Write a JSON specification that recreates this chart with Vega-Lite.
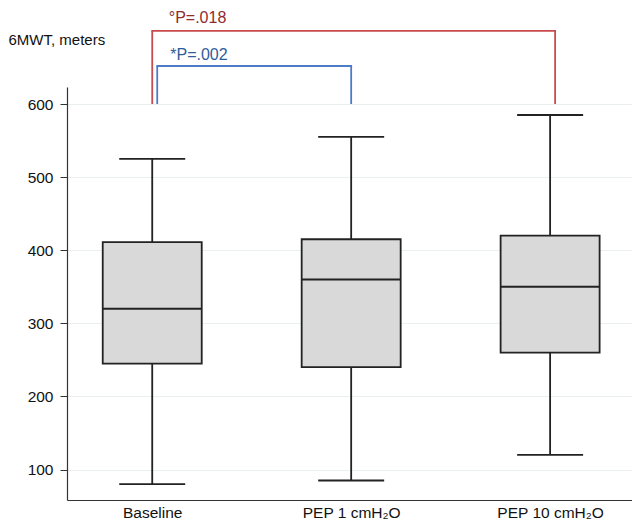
{
  "$schema": "https://vega.github.io/schema/vega-lite/v6.json",
  "width": 565,
  "height": 413,
  "autosize": {"type": "none"},
  "padding": {"left": 67, "top": 87, "right": 0, "bottom": 26},
  "background": "white",
  "config": {
    "view": {"stroke": null},
    "font": "Liberation Sans",
    "axis": {"labelFont": "Liberation Sans", "titleFont": "Liberation Sans"}
  },
  "datasets": {
    "boxes": [
      {"group": "Baseline", "min": 80, "q1": 245, "median": 320, "q3": 411, "max": 525},
      {"group": "PEP 1 cmH₂O", "min": 85, "q1": 240, "median": 360, "q3": 415, "max": 555},
      {"group": "PEP 10 cmH₂O", "min": 120, "q1": 260, "median": 350, "q3": 420, "max": 585}
    ],
    "brackets": [
      {"test": "a", "from": "Baseline", "to": "PEP 10 cmH₂O", "level": 700, "base": 600, "label": "°P=.018", "labelLevel": 711},
      {"test": "b", "from": "Baseline", "to": "PEP 1 cmH₂O", "level": 652, "base": 600, "label": "*P=.002", "labelLevel": 660}
    ]
  },
  "layer": [
    {
      "data": {"name": "boxes"},
      "mark": {"type": "rule", "color": "#222222", "strokeWidth": 1.8},
      "encoding": {
        "x": {
          "field": "group", "type": "nominal",
          "scale": {"type": "point", "domain": ["Baseline", "PEP 1 cmH₂O", "PEP 10 cmH₂O"], "padding": 0.42, "align": 0.51},
          "axis": {"title": null, "ticks": false, "labelAngle": 0, "labelFontSize": 15.5, "labelColor": "#111111", "labelPadding": 5, "domainColor": "#333333", "domainWidth": 1.2, "grid": false}
        },
        "y": {
          "field": "min", "type": "quantitative",
          "scale": {"domain": [58.3, 623.3], "nice": false, "zero": false},
          "axis": {
            "values": [100, 200, 300, 400, 500, 600],
            "title": "6MWT, meters", "titleAngle": 0, "titleAlign": "left", "titleBaseline": "alphabetic",
            "titleX": -59, "titleY": -43, "titleFontSize": 15, "titleFontWeight": "normal", "titleColor": "#111111",
            "labelFontSize": 15.5, "labelColor": "#111111", "labelPadding": 7,
            "tickSize": 7, "tickColor": "#333333", "domainColor": "#333333", "domainWidth": 1.2,
            "grid": true, "gridColor": "#EAF0F0", "gridWidth": 1.2
          }
        },
        "y2": {"field": "max"}
      }
    },
    {
      "data": {"name": "boxes"},
      "mark": {"type": "bar", "size": 99, "fill": "#D9D9D9", "stroke": "#222222", "strokeWidth": 1.8},
      "encoding": {
        "x": {"field": "group", "type": "nominal"},
        "y": {"field": "q1", "type": "quantitative"},
        "y2": {"field": "q3"}
      }
    },
    {
      "data": {"name": "boxes"},
      "mark": {"type": "tick", "size": 99, "thickness": 2, "color": "#222222", "opacity": 1, "orient": "horizontal"},
      "encoding": {
        "x": {"field": "group", "type": "nominal"},
        "y": {"field": "median", "type": "quantitative"}
      }
    },
    {
      "data": {"name": "boxes"},
      "mark": {"type": "tick", "size": 66, "thickness": 1.8, "color": "#222222", "opacity": 1, "orient": "horizontal"},
      "encoding": {
        "x": {"field": "group", "type": "nominal"},
        "y": {"field": "min", "type": "quantitative"}
      }
    },
    {
      "data": {"name": "boxes"},
      "mark": {"type": "tick", "size": 66, "thickness": 1.8, "color": "#222222", "opacity": 1, "orient": "horizontal"},
      "encoding": {
        "x": {"field": "group", "type": "nominal"},
        "y": {"field": "max", "type": "quantitative"}
      }
    },
    {
      "data": {"name": "brackets"},
      "transform": [{"filter": "datum.test == 'a'"}],
      "mark": {"type": "rule", "color": "#C94B4D", "strokeWidth": 1.8, "x2Offset": 5, "strokeCap": "square"},
      "encoding": {
        "x": {"field": "from", "type": "nominal"},
        "x2": {"field": "to"},
        "y": {"field": "level", "type": "quantitative"}
      }
    },
    {
      "data": {"name": "brackets"},
      "transform": [{"filter": "datum.test == 'a'"}],
      "mark": {"type": "rule", "color": "#C94B4D", "strokeWidth": 1.8},
      "encoding": {
        "x": {"field": "from", "type": "nominal"},
        "y": {"field": "base", "type": "quantitative"},
        "y2": {"field": "level"}
      }
    },
    {
      "data": {"name": "brackets"},
      "transform": [{"filter": "datum.test == 'a'"}],
      "mark": {"type": "rule", "color": "#C94B4D", "strokeWidth": 1.8, "xOffset": 5},
      "encoding": {
        "x": {"field": "to", "type": "nominal"},
        "y": {"field": "base", "type": "quantitative"},
        "y2": {"field": "level"}
      }
    },
    {
      "data": {"name": "brackets"},
      "transform": [{"filter": "datum.test == 'b'"}],
      "mark": {"type": "rule", "color": "#4A7DC6", "strokeWidth": 1.8, "xOffset": 5, "x2Offset": 0, "strokeCap": "square"},
      "encoding": {
        "x": {"field": "from", "type": "nominal"},
        "x2": {"field": "to"},
        "y": {"field": "level", "type": "quantitative"}
      }
    },
    {
      "data": {"name": "brackets"},
      "transform": [{"filter": "datum.test == 'b'"}],
      "mark": {"type": "rule", "color": "#4A7DC6", "strokeWidth": 1.8, "xOffset": 5},
      "encoding": {
        "x": {"field": "from", "type": "nominal"},
        "y": {"field": "base", "type": "quantitative"},
        "y2": {"field": "level"}
      }
    },
    {
      "data": {"name": "brackets"},
      "transform": [{"filter": "datum.test == 'b'"}],
      "mark": {"type": "rule", "color": "#4A7DC6", "strokeWidth": 1.8},
      "encoding": {
        "x": {"field": "to", "type": "nominal"},
        "y": {"field": "base", "type": "quantitative"},
        "y2": {"field": "level"}
      }
    },
    {
      "data": {"name": "brackets"},
      "transform": [{"filter": "datum.test == 'a'"}],
      "mark": {"type": "text", "align": "left", "baseline": "alphabetic", "dx": 16.5, "fontSize": 16, "color": "#8E2C2E"},
      "encoding": {
        "x": {"field": "from", "type": "nominal"},
        "y": {"field": "labelLevel", "type": "quantitative"},
        "text": {"field": "label"}
      }
    },
    {
      "data": {"name": "brackets"},
      "transform": [{"filter": "datum.test == 'b'"}],
      "mark": {"type": "text", "align": "left", "baseline": "alphabetic", "dx": 18, "fontSize": 16, "color": "#2F5D9A"},
      "encoding": {
        "x": {"field": "from", "type": "nominal"},
        "y": {"field": "labelLevel", "type": "quantitative"},
        "text": {"field": "label"}
      }
    }
  ]
}
